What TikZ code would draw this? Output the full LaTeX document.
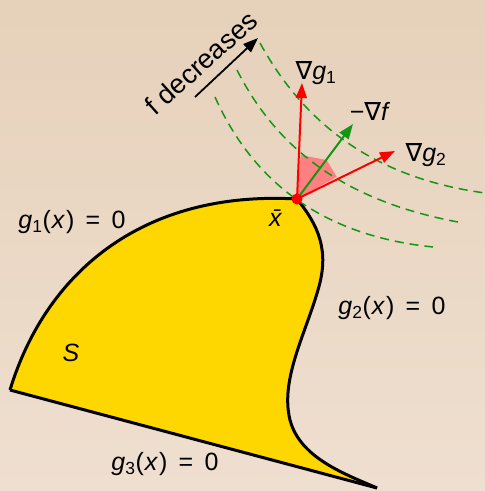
\documentclass[tikz,border=0pt]{standalone}
\usepackage{fontspec}
\setmainfont{Liberation Sans}
\newfontfamily\nablafont{DejaVu Sans}
\usetikzlibrary{arrows.meta}

\definecolor{bgtop}{RGB}{230,209,186}
\definecolor{bgbot}{RGB}{239,223,208}
\definecolor{setfill}{RGB}{255,215,0}
\definecolor{levelgreen}{RGB}{20,150,20}
\definecolor{conepink}{RGB}{255,128,128}

\newcommand{\nab}{{\nablafont ∇}}
\newcommand{\gx}[1]{\textit{g}\textsubscript{#1}(\kern1pt\textit{x}\kern1pt)\hspace{0.45em}=\hspace{0.45em}0}

\tikzset{
  bound/.style={line width=3pt, line join=round},
  level/.style={levelgreen, line width=1.5pt, dash pattern=on 9pt off 6pt},
  grad/.style={red, line width=2pt, -{Triangle[length=15pt,width=11pt]}},
  lbl/.style={inner sep=0pt}
}

\begin{document}
\begin{tikzpicture}[x=1pt, y=-1pt, font=\fontsize{25}{29}\selectfont]
  \shade[top color=bgtop, bottom color=bgbot] (0,0) rectangle (485,491);
  \useasboundingbox (0,0) rectangle (485,491);

  \coordinate (xb) at (297,199);
  \coordinate (C) at (10,390);
  \coordinate (D) at (377,488);
  \coordinate (tg1) at (302,83);
  \coordinate (tg2) at (395,151);
  \coordinate (tf) at (353,124);

  % feasible set
  \fill[setfill] (C) .. controls (45,275) and (140,190) .. (xb)
    .. controls (318,225) and (330,250) .. (318,290)
    .. controls (305,335) and (280,380) .. (290,420)
    .. controls (300,458) and (345,474) .. (D) -- cycle;
  \draw[bound] (C) .. controls (45,275) and (140,190) .. (xb)
    .. controls (318,225) and (330,250) .. (318,290)
    .. controls (305,335) and (280,380) .. (290,420)
    .. controls (300,458) and (345,474) .. (D);
  \draw[bound] (C) -- (D);

  % cone of gradients
  \fill[conepink] (xb) -- (300.7,155) -- (326.7,160) -- (336.7,176.7) -- cycle;

  % level sets of f
  \draw[level] (215,97) .. controls (250,175) and (315,235) .. (433,247);
  \draw[level] (237,70) .. controls (275,145) and (340,200) .. (458,222);
  \draw[level] (260,43) .. controls (305,125) and (375,178) .. (485,193);

  \draw[grad] (xb) -- (tg1);
  \draw[grad] (xb) -- (tg2);
  \draw[grad, levelgreen] (xb) -- (tf);
  \fill[red] (xb) circle (5.5);

  \coordinate (fa) at (195,97);
  \coordinate (fb) at (258,38);
  \draw[line width=1.8pt, -{Triangle[length=15pt,width=11pt]}] (fa) -- (fb);
  \node[lbl, rotate=42, font=\fontsize{27}{31}\selectfont] (fdec) at (201,63) {f decreases};

  \node[lbl] (lg1) at (316,73) {\nab\textit{g}\textsubscript{1}};
  \node[lbl] (lf) at (370,111) {−\nab\textit{f}};
  \node[lbl] (lg2) at (426,155) {\nab\textit{g}\textsubscript{2}};
  \node[lbl] (lx) at (277,218) {\textit{\={x}}};
  \node[lbl] (l1) at (72,222) {\gx{1}};
  \node[lbl] (l2) at (392,308) {\gx{2}};
  \node[lbl] (l3) at (165,464) {\gx{3}};
  \node[lbl] (lS) at (71,353) {\textit{S}};
\end{tikzpicture}
\end{document}
